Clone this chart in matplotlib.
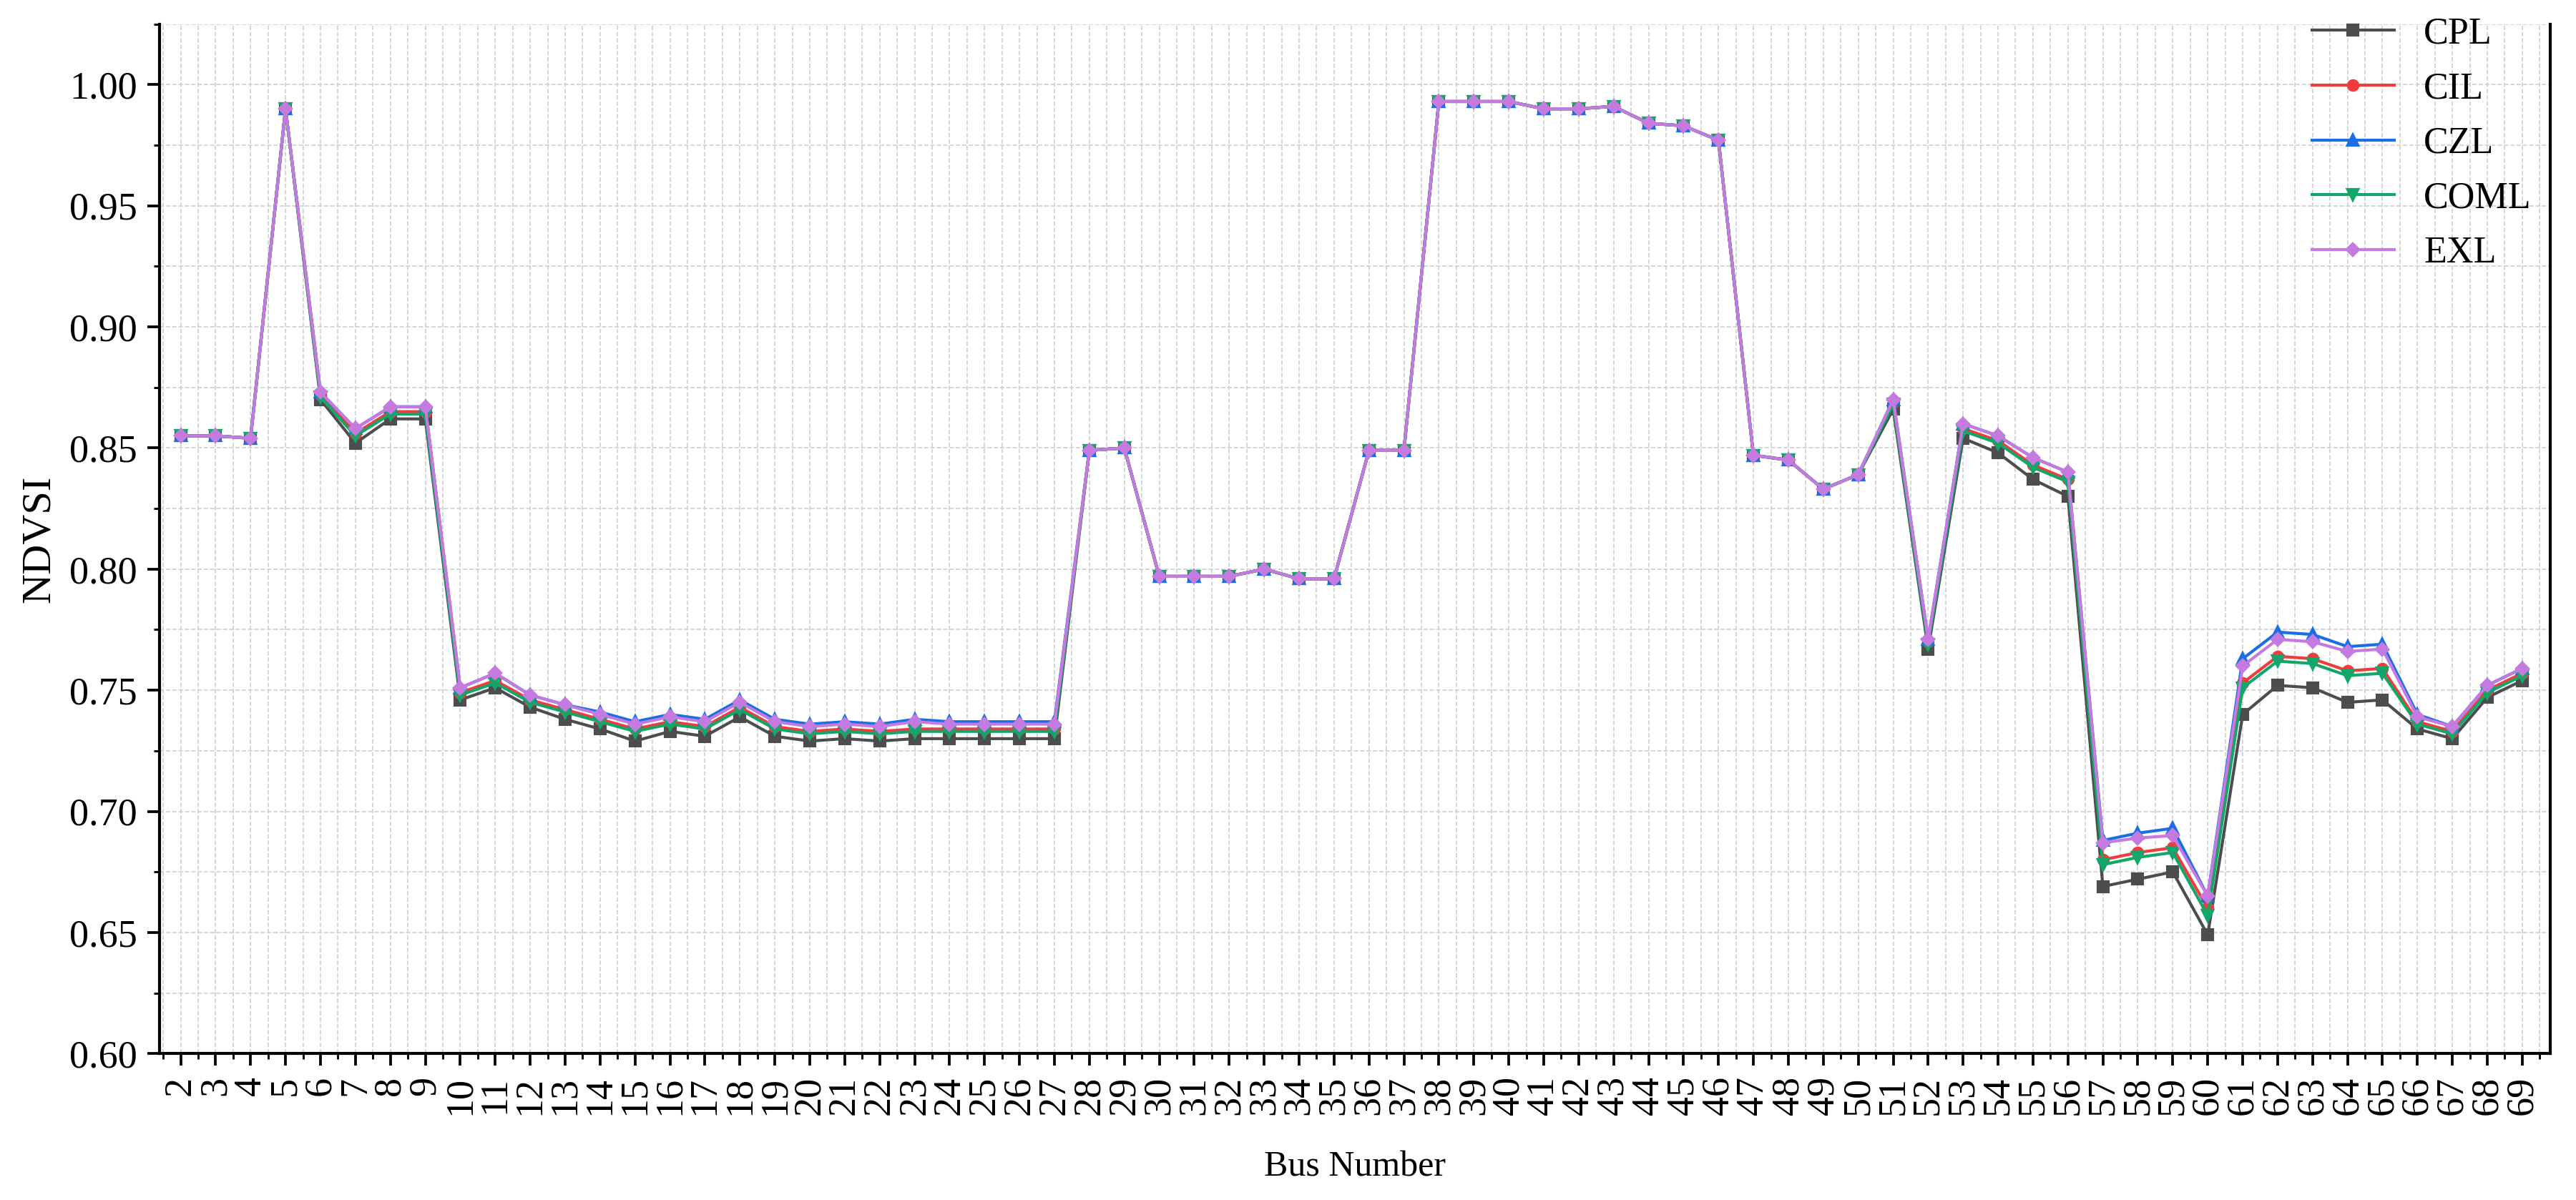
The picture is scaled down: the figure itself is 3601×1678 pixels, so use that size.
import matplotlib
matplotlib.use("Agg")
import matplotlib.pyplot as plt
from matplotlib.ticker import MultipleLocator

plt.rcParams['font.family'] = ['Liberation Serif', 'DejaVu Serif']

buses = list(range(2, 70))
EXL = [.855,.855,.854,.990,.873,.858,.867,.867,.751,.757,.748,.744,.740,.736,.739,.737,.745,.737,.735,.736,.735,.737,.736,.736,.736,.736,
       .849,.850,.797,.797,.797,.800,.796,.796,.849,.849,.993,.993,.993,.990,.990,.991,.984,.983,.977,.847,.845,.833,.839,.870,.771,
       .860,.855,.846,.840,.687,.689,.690,.665,.760,.771,.770,.766,.767,.739,.735,.752,.759]
CZL = [.855,.855,.854,.990,.873,.858,.867,.867,.751,.757,.748,.744,.741,.737,.740,.738,.746,.738,.736,.737,.736,.738,.737,.737,.737,.737,
       .849,.850,.797,.797,.797,.800,.796,.796,.849,.849,.993,.993,.993,.990,.990,.991,.984,.983,.977,.847,.845,.833,.839,.870,.771,
       .860,.855,.846,.840,.688,.691,.693,.665,.763,.774,.773,.768,.769,.740,.735,.752,.759]
CIL = [.855,.855,.854,.990,.872,.856,.865,.865,.749,.754,.746,.742,.738,.734,.737,.735,.743,.735,.733,.734,.733,.734,.734,.734,.734,.734,
       .849,.850,.797,.797,.797,.800,.796,.796,.849,.849,.993,.993,.993,.990,.990,.991,.984,.983,.977,.847,.845,.833,.839,.869,.770,
       .858,.853,.843,.837,.680,.683,.685,.660,.753,.764,.763,.758,.759,.737,.733,.750,.757]
COML = [.855,.855,.854,.990,.871,.855,.864,.864,.748,.753,.745,.741,.737,.733,.736,.734,.742,.734,.732,.733,.732,.733,.733,.733,.733,.733,
        .849,.850,.797,.797,.797,.800,.796,.796,.849,.849,.993,.993,.993,.990,.990,.991,.984,.983,.977,.847,.845,.833,.839,.868,.769,
        .857,.852,.842,.836,.678,.681,.683,.657,.751,.762,.761,.756,.757,.736,.732,.749,.756]
CPL = [.855,.855,.854,.990,.870,.852,.862,.862,.746,.751,.743,.738,.734,.729,.733,.731,.739,.731,.729,.730,.729,.730,.730,.730,.730,.730,
       .849,.850,.797,.797,.797,.800,.796,.796,.849,.849,.993,.993,.993,.990,.990,.991,.984,.983,.977,.847,.845,.833,.839,.866,.767,
       .854,.848,.837,.830,.669,.672,.675,.649,.740,.752,.751,.745,.746,.734,.730,.747,.754]

fig = plt.figure(figsize=(3601/300, 1678/300), dpi=300)
ax = fig.add_axes([0.062, 0.122, 0.928, 0.858])

series = [("CPL", CPL, '#4d4d4d', 's'), ("CIL", CIL, '#f03c3c', 'o'), ("CZL", CZL, '#1a6ee6', '^'),
          ("COML", COML, '#12a66b', 'v'), ("EXL", EXL, '#c57ae0', 'D')]
for name, vals, c, m in series:
    ax.plot(buses, vals, color=c, marker=m, markersize=3.2 if m != 'D' else 2.8, linewidth=1.0, label=name)

ax.set_xlim(1.4, 69.8)
ax.set_ylim(0.60, 1.025)
ax.set_xticks(buses)
ax.set_xticklabels([str(b) for b in buses], rotation=90)
ax.xaxis.set_minor_locator(MultipleLocator(0.5))
ax.yaxis.set_major_locator(MultipleLocator(0.05))
ax.yaxis.set_minor_locator(MultipleLocator(0.025))
ax.yaxis.set_major_formatter(matplotlib.ticker.FormatStrFormatter('%.2f'))
ax.grid(True, which='both', color='#d0d0d0', linestyle='--', linewidth=0.4)
ax.set_axisbelow(True)
ax.spines['top'].set_visible(False)
for s in ['left', 'bottom', 'right']:
    ax.spines[s].set_linewidth(1.0)
ax.tick_params(which='major', direction='out', length=4, width=0.9, labelsize=13)
ax.tick_params(which='minor', direction='out', length=2, width=0.7)
ax.set_xlabel('Bus Number', fontsize=12, labelpad=12)
ax.set_ylabel('NDVSI', fontsize=14)
ax.legend(loc='upper right', frameon=False, fontsize=12.5, handlelength=2.2, borderaxespad=0.1,
          bbox_to_anchor=(1.0, 1.025), labelspacing=0.55)
fig.savefig('out.png', dpi=300)
